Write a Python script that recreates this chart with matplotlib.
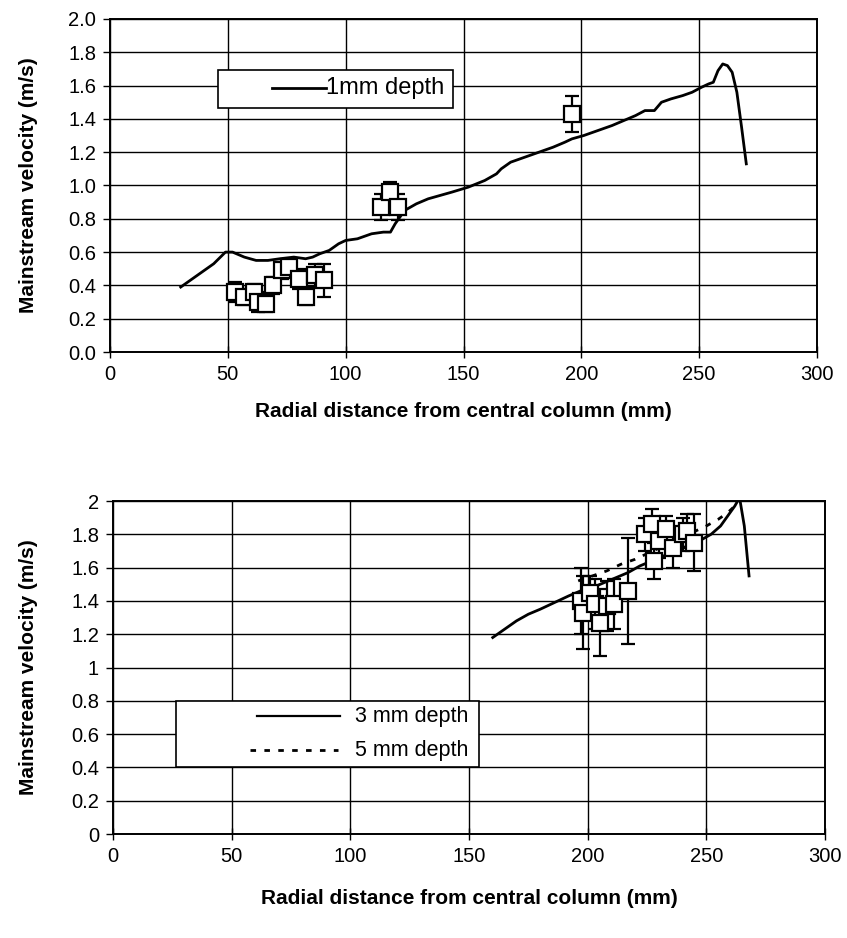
import matplotlib
matplotlib.use("Agg")
import matplotlib.pyplot as plt
from matplotlib.patches import Rectangle

plt.rcParams["font.family"] = ["Liberation Sans", "DejaVu Sans"]

# --- top panel: 1 mm depth profile and measured points ---
top_line_x = [30, 37, 44, 49, 52, 57, 62, 67, 72, 78, 83, 86, 89, 93, 97, 100,
              105, 111, 116, 119, 121, 125, 130, 135, 140, 145, 152, 159, 164,
              166, 170, 176, 182, 188, 193, 196, 201, 207, 213, 218, 223, 227,
              231, 234, 238, 243, 247, 251, 254, 256, 258, 260, 262, 264, 266,
              268, 270]
top_line_y = [0.39, 0.46, 0.53, 0.60, 0.60, 0.57, 0.55, 0.55, 0.56, 0.57, 0.56,
              0.57, 0.59, 0.61, 0.65, 0.67, 0.68, 0.71, 0.72, 0.72, 0.77, 0.85,
              0.89, 0.92, 0.94, 0.96, 0.99, 1.03, 1.07, 1.10, 1.14, 1.17, 1.20,
              1.23, 1.26, 1.28, 1.30, 1.33, 1.36, 1.39, 1.42, 1.45, 1.45, 1.50,
              1.52, 1.54, 1.56, 1.59, 1.61, 1.62, 1.69, 1.73, 1.72, 1.68, 1.56,
              1.35, 1.13]

top_pts_x = [53, 57, 61, 63, 66, 69, 73, 76, 80, 83, 87, 91, 115, 119, 122, 196]
top_pts_y = [0.36, 0.33, 0.36, 0.30, 0.29, 0.40, 0.49, 0.51, 0.44, 0.33, 0.46,
             0.43, 0.87, 0.96, 0.87, 1.43]
top_pts_err = [0.06, 0.05, 0.05, 0.06, 0.05, 0.05, 0.05, 0.05, 0.06, 0.05, 0.07,
               0.10, 0.08, 0.06, 0.08, 0.11]

# --- bottom panel: 3 mm and 5 mm depth profiles and measured points ---
mm3_x = [160, 165, 170, 175, 180, 186, 192, 197, 202, 207, 212, 217, 222, 227,
         232, 237, 242, 247, 252, 256, 259, 262, 264, 266, 268]
mm3_y = [1.18, 1.23, 1.28, 1.32, 1.35, 1.39, 1.43, 1.46, 1.48, 1.51, 1.54, 1.57,
         1.61, 1.64, 1.67, 1.70, 1.73, 1.76, 1.80, 1.85, 1.91, 1.97, 2.02, 1.85,
         1.55]

mm5_x = [196, 202, 208, 214, 220, 226, 232, 238, 244, 250, 255, 259, 262]
mm5_y = [1.52, 1.55, 1.58, 1.62, 1.65, 1.69, 1.73, 1.77, 1.81, 1.85, 1.89, 1.93,
         1.97]

bot_pts_x = [197, 198, 201, 203, 205, 208, 211, 217, 224, 227, 228, 230, 233,
             236, 240, 242, 245]
bot_pts_y = [1.40, 1.33, 1.45, 1.38, 1.27, 1.37, 1.38, 1.46, 1.80, 1.86, 1.64,
             1.76, 1.83, 1.72, 1.80, 1.82, 1.75]
bot_pts_err = [0.20, 0.22, 0.10, 0.15, 0.20, 0.15, 0.15, 0.32, 0.10, 0.09, 0.11,
               0.10, 0.08, 0.12, 0.10, 0.10, 0.17]

x_ticks = [0, 50, 100, 150, 200, 250, 300]
y_ticks = [0.0, 0.2, 0.4, 0.6, 0.8, 1.0, 1.2, 1.4, 1.6, 1.8, 2.0]
top_y_labels = ["%.1f" % v for v in y_ticks]
bot_y_labels = ["0", "0.2", "0.4", "0.6", "0.8", "1", "1.2", "1.4", "1.6", "1.8", "2"]

XLABEL = "Radial distance from central column (mm)"
YLABEL = "Mainstream velocity (m/s)"

W, H, DPI = 847, 938, 100
fig = plt.figure(figsize=(W / DPI, H / DPI), dpi=DPI)


def px_axes(left, top, right, bottom):
    return fig.add_axes([left / W, 1 - bottom / H, (right - left) / W, (bottom - top) / H])


def style_axes(ax, ylabels, ylab_x, xlab_y):
    ax.set_xlim(0, 300)
    ax.set_ylim(0, 2.0)
    ax.set_xticks(x_ticks)
    ax.set_yticks(y_ticks)
    ax.set_yticklabels(ylabels)
    ax.grid(True, color="black", linewidth=1.0)
    ax.set_axisbelow(True)
    for s in ax.spines.values():
        s.set_linewidth(1.4)
        s.set_color("black")
    ax.tick_params(axis="y", labelsize=14.5, length=5, width=1, direction="out", pad=5)
    ax.tick_params(axis="x", labelsize=14.5, length=8, width=1, direction="inout", pad=5)
    ax.set_xlabel(XLABEL, fontsize=15, fontweight="bold")
    ax.set_ylabel(YLABEL, fontsize=15, fontweight="bold")
    ax.yaxis.set_label_coords(ylab_x, 0.5)
    ax.xaxis.set_label_coords(0.5, xlab_y)


def points(ax, x, y, err):
    ax.errorbar(x, y, yerr=err, fmt="none", ecolor="black", elinewidth=1.6,
                capsize=5, capthick=1.6, zorder=3)
    ax.plot(x, y, "s", markersize=12, markerfacecolor="white",
            markeredgecolor="black", markeredgewidth=1.6, zorder=4,
            linestyle="none")


# top chart
ax1 = px_axes(110, 19, 817, 352)
ax1.plot(top_line_x, top_line_y, color="black", linewidth=2.0, zorder=2)
points(ax1, top_pts_x, top_pts_y, top_pts_err)
style_axes(ax1, top_y_labels, -0.102, -0.150)

# legend box (Excel style, blank area at left)
ax1.add_patch(Rectangle((0.153, 0.733), 0.332, 0.114, transform=ax1.transAxes,
                        facecolor="white", edgecolor="black", linewidth=1.2, zorder=5))
ax1.plot([0.229, 0.306], [0.793, 0.793], transform=ax1.transAxes, color="black",
         linewidth=2.0, zorder=6)
ax1.text(0.306, 0.793, "1mm depth", transform=ax1.transAxes, fontsize=17,
         va="center", ha="left", zorder=6)

# bottom chart
ax2 = px_axes(113, 501, 825, 834)
ax2.plot(mm3_x, mm3_y, color="black", linewidth=2.0, zorder=2)
ax2.plot(mm5_x, mm5_y, color="black", linewidth=2.0, linestyle=(0, (2, 3)), zorder=2)
points(ax2, bot_pts_x, bot_pts_y, bot_pts_err)
style_axes(ax2, bot_y_labels, -0.105, -0.165)

ax2.add_patch(Rectangle((0.0885, 0.202), 0.425, 0.198, transform=ax2.transAxes,
                        facecolor="white", edgecolor="black", linewidth=1.2, zorder=5))
ax2.plot([0.202, 0.319], [0.354, 0.354], transform=ax2.transAxes, color="black",
         linewidth=1.6, zorder=6)
ax2.plot([0.192, 0.316], [0.252, 0.252], transform=ax2.transAxes, color="black",
         linewidth=2.0, linestyle=(0, (2, 3)), zorder=6)
ax2.text(0.340, 0.354, "3 mm depth", transform=ax2.transAxes, fontsize=15.5,
         va="center", ha="left", zorder=6)
ax2.text(0.340, 0.252, "5 mm depth", transform=ax2.transAxes, fontsize=15.5,
         va="center", ha="left", zorder=6)

fig.savefig("out.png", dpi=DPI, facecolor="white")
